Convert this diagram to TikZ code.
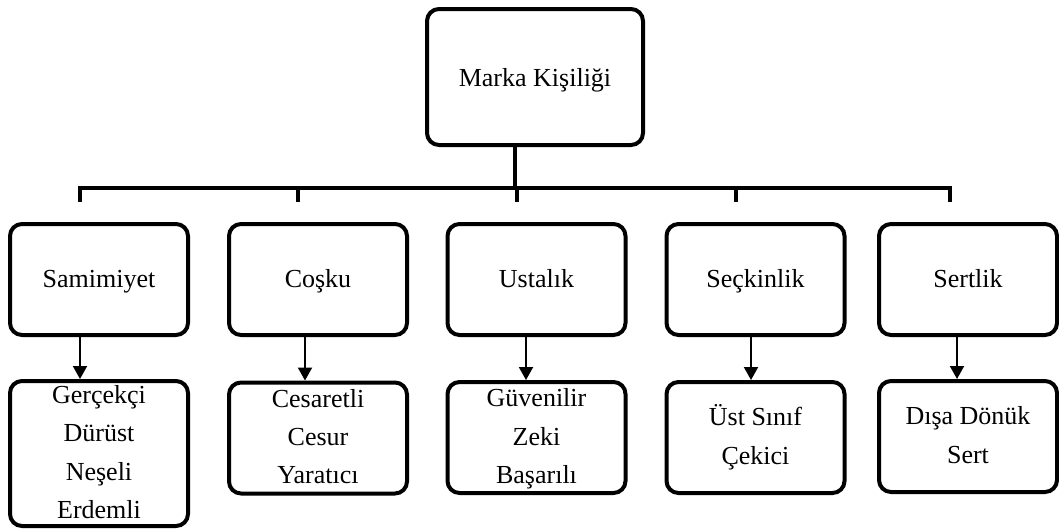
\documentclass[tikz,border=0pt]{standalone}
\usepackage{fontspec}
\setmainfont{Liberation Serif}
\usetikzlibrary{arrows.meta,positioning}

\begin{document}
\begin{tikzpicture}[x=0.5pt,y=-0.5pt,every node/.style={font=\fontsize{13}{19.2}\selectfont},
  kutu/.style={draw,line width=2pt,rounded corners=6pt,align=center,inner sep=0pt,minimum width=89pt,minimum height=55.5pt,text height=10.5pt,text depth=3pt},
  satir/.style={text height=#1},
  hat/.style={line width=2pt},
  ok/.style={line width=1pt,-{Triangle[width=7pt,length=6.5pt]}}]
\useasboundingbox (0,0) rectangle (1059,530);
\node[kutu,minimum width=108pt,minimum height=68pt,text height=12pt] (marka) at (535,77) {Marka Kişiliği};
\node[kutu] (m1) at (99,279.5) {Samimiyet};
\node[kutu] (m2) at (318,279.5) {Coşku};
\node[kutu] (m3) at (536.5,279.5) {Ustalık};
\node[kutu] (m4) at (755.5,279.5) {Seçkinlik};
\node[kutu] (m5) at (968,279.5) {Sertlik};
\node[kutu,satir=68.1pt,minimum height=72.5pt] (c1) at (99,453.5) {Gerçekçi\\Dürüst\\Neşeli\\Erdemli};
\node[kutu,satir=48.9pt] (c2) at (318,438) {Cesaretli\\Cesur\\Yaratıcı};
\node[kutu,satir=48.9pt] (c3) at (536.5,437.5) {Güvenilir\\Zeki\\Başarılı};
\node[kutu,satir=29.7pt] (c4) at (755.5,437.5) {Üst Sınıf\\Çekici};
\node[kutu,satir=29.7pt] (c5) at (968,436.5) {Dışa Dönük\\Sert};
% bus line
\coordinate (g) at (515,188);
\coordinate (k1) at (80,188);  \coordinate (u1) at (80,202);
\coordinate (k2) at (298,188); \coordinate (u2) at (298,202);
\coordinate (k3) at (517,188); \coordinate (u3) at (517,202);
\coordinate (k4) at (736,188); \coordinate (u4) at (736,202);
\coordinate (k5) at (950,188); \coordinate (u5) at (950,202);
\draw[hat] ([xshift=-10pt]marka.south) -- (g);
\draw[hat] (u1) -- (k1) -- (k5) -- (u5);
\draw[hat] (k2) -- (u2);
\draw[hat] (k3) -- (u3);
\draw[hat] (k4) -- (u4);
% arrows
\draw[ok] ([xshift=-9.5pt]m1.south) -- ([xshift=-9.5pt]c1.north);
\draw[ok] ([xshift=-6.5pt]m2.south) -- ([xshift=-6.5pt]c2.north);
\draw[ok] ([xshift=-5.25pt]m3.south) -- ([xshift=-5.25pt]c3.north);
\draw[ok] ([xshift=-2.25pt]m4.south) -- ([xshift=-2.25pt]c4.north);
\draw[ok] ([xshift=-5.5pt]m5.south) -- ([xshift=-5.5pt]c5.north);
\end{tikzpicture}
\end{document}
